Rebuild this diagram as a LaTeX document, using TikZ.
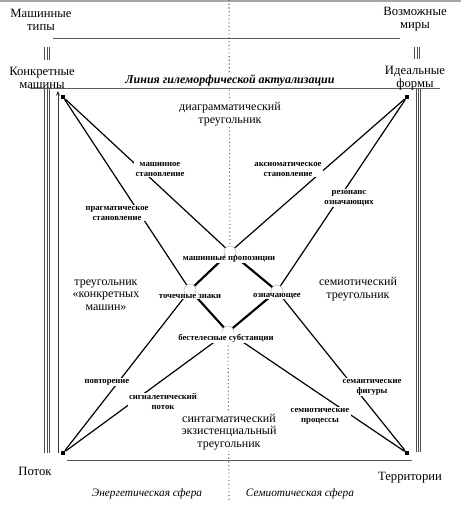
\documentclass[tikz,border=0pt]{standalone}
\usepackage{fontspec}
\setmainfont{Liberation Serif}
\usetikzlibrary{positioning, arrows.meta}

\begin{document}
\begin{tikzpicture}[
    x=0.75pt, y=-0.75pt,
    >={Stealth[length=3.5pt, width=3pt]},
    corner/.style={rectangle, fill=black, minimum size=3.2pt, inner sep=0pt},
    hub/.style={circle, draw=black!30, fill=white, minimum size=9pt, inner sep=0pt},
    world/.style={align=center, font=\fontsize{9.5}{9.8}\selectfont},
    lbl/.style={align=center, fill=white, inner sep=1pt,
                font=\fontsize{6.5}{7.5}\selectfont\bfseries},
    hublbl/.style={fill=white, inner sep=0.4pt,
                   font=\fontsize{6.5}{7.5}\selectfont\bfseries},
    tri/.style={align=center, fill=white, inner sep=1pt,
                font=\fontsize{9}{9.4}\selectfont},
    sphere/.style={font=\fontsize{8.5}{10}\selectfont\itshape},
    link/.style={line width=0.9pt},
    rib/.style={line width=1.6pt},
    rule/.style={draw=black!65, double, double distance=0.6pt, line width=0.45pt},
    axis/.style={dotted, line width=0.8pt, black!60},
]
\useasboundingbox (0,0) rectangle (461,512);

% frame edge at the top
\draw[black!35, line width=1pt] (0,1) -- (461,1);

% === Rules and borders ===
\draw[rule] (53,39) -- (400,39);
\draw[rule] (30,89) -- (440,89);
\draw[rule] (67,461) -- (412,461);

% triple bars
\foreach \dx in {-2.2,0,2.2} {
  \draw[black!70, line width=0.5pt] (47+\dx,47) -- (47+\dx,60);
  \draw[black!70, line width=0.5pt] (417+\dx,47) -- (417+\dx,59);
  \draw[black!70, line width=0.6pt] (47+\dx,89) -- (47+\dx,453);
  \draw[black!70, line width=0.6pt] (418.5+\dx,89) -- (418.5+\dx,452);
}

% thin flow line with arrow
\coordinate (flowbase) at (58,453);
\coordinate (flowtip) at (58,91);
\draw[->, line width=0.5pt, black!80] (flowbase) -- (flowtip);

% === Corners and hubs ===
\node[corner] (tl) at (63,97) {};
\node[corner] (tr) at (407,97) {};
\node[corner] (bl) at (63,453) {};
\node[corner] (br) at (407,453) {};

\node[hub] (mp) at (230,252) {};
\node[hub] (tz) at (190,290) {};
\node[hub] (oz) at (277,291) {};
\node[hub] (bs) at (228,332) {};

% dotted axis
\coordinate (axtop) at (229,0);
\coordinate (axbot) at (229,500);
\draw[axis] (axtop) -- (mp);
\draw[axis] (bs) -- (axbot);

% === Connectors ===
\draw[link] (tl) -- (mp);
\draw[link] (tl) -- (tz);
\draw[link] (tr) -- (mp);
\draw[link] (tr) -- (oz);
\draw[link] (bl) -- (tz);
\draw[link] (bl) -- (bs);
\draw[link] (br) -- (oz);
\draw[link] (br) -- (bs);

% central diamond
\draw[rib] (mp) -- (tz);
\draw[rib] (mp) -- (oz);
\draw[rib] (tz) -- (bs);
\draw[rib] (oz) -- (bs);

% === Labels ===
\node[world] (types) at (41,20) {Машинные\\типы};
\node[world] (worlds) at (415,19) {Возможные\\миры};
\node[world] (concrete) at (42,77.5) {Конкретные\\машины};
\node[world] (ideal) at (415,78.5) {Идеальные\\формы};
\node[fill=white, inner sep=1pt, font=\fontsize{9}{10}\selectfont\bfseries\itshape]
  (hyle) at (230,80) {Линия гилеморфической актуализации};

\node[tri] (diag) at (230,114) {диаграмматический\\треугольник};
\node[tri] (concretetri) at (106,295) {треугольник\\«конкретных\\машин»};
\node[tri] (semiotri) at (358,289) {семиотический\\треугольник};
\node[tri] (syntag) at (229,432) {синтагматический\\экзистенциальный\\треугольник};

\node[lbl] (machbecome) at (160,169) {машинное\\становление};
\node[lbl] (axiom) at (288,169) {аксиоматическое\\становление};
\node[lbl] (pragm) at (117,213) {прагматическое\\становление};
\node[lbl] (reson) at (349,198) {резонанс\\означающих};
\node[lbl] (repeat) at (107,382) {повторение};
\node[lbl] (signal) at (163,402) {сигналетический\\поток};
\node[lbl] (semfig) at (372,387) {семантические\\фигуры};
\node[lbl] (semproc) at (320,416) {семиотические\\процессы};

\node[hublbl] at (229,259) {машинные пропозиции};
\node[hublbl] at (190,296) {точечные знаки};
\node[hublbl] at (277,296) {означающее};
\node[hublbl] at (226,338) {бестелесные субстанции};

\node[world] (flow) at (35,471) {Поток};
\node[world] (terr) at (410,478) {Территории};
\node[sphere] (energy) at (147,494) {Энергетическая сфера};
\node[sphere] (semiosph) at (300,494) {Семиотическая сфера};

\end{tikzpicture}
\end{document}
